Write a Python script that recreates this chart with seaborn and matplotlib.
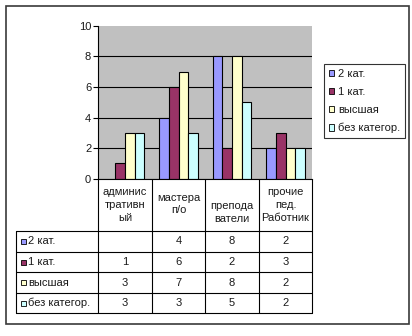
import numpy as np
import pandas as pd
import matplotlib
matplotlib.use("Agg")
import matplotlib.pyplot as plt
from matplotlib.patches import Rectangle, Patch
from matplotlib.lines import Line2D
from matplotlib.transforms import blended_transform_factory
import seaborn as sns

# ---- data ----
categories = ["админис\nтративн\nый", "мастера\nп/о", "препода\nватели", "прочие\nпед.\nРаботник"]
series = ["2 кат.", "1 кат.", "высшая", "без категор."]
cat2 = [np.nan, 4, 8, 2]
cat1 = [1, 6, 2, 3]
highest = [3, 7, 8, 2]
no_cat = [3, 3, 5, 2]
yticks = [0, 2, 4, 6, 8, 10]

series_values = [cat2, cat1, highest, no_cat]
colors = ["#9999FF", "#993366", "#FFFFCC", "#CCFFFF"]

rows = []
for s, vals in zip(series, series_values):
    for c, v in zip(categories, vals):
        if not np.isnan(v):
            rows.append({"category": c, "series": s, "value": v})
df = pd.DataFrame(rows)

sns.set_theme(style="white")
plt.rcParams["font.family"] = ["Liberation Sans", "DejaVu Sans"]
FS = 8
TXT = "#1a1a1a"

W, H = 412, 336
fig = plt.figure(figsize=(W / 100, H / 100), dpi=100)
fig.patch.set_facecolor("white")


def fx(px):
    return px / W


def fy(py):
    return 1 - py / H


ax_l, ax_r, ax_t, ax_b = 98.3, 312.3, 25.7, 178.8
ax = fig.add_axes([fx(ax_l), fy(ax_b), (ax_r - ax_l) / W, (ax_b - ax_t) / H])
ax.set_facecolor("#C0C0C0")

sns.barplot(data=df, x="category", y="value", hue="series", order=categories,
            hue_order=series, palette=colors, width=0.72, edgecolor="black",
            linewidth=0.8, errorbar=None, legend=False, saturation=1, ax=ax)

ax.set_xlim(-0.5, len(categories) - 0.5)
ax.set_ylim(0, 10)
ax.set_yticks(yticks)
ax.set_xticks([])
ax.set_xlabel("")
ax.set_ylabel("")
ax.set_axisbelow(True)
ax.yaxis.grid(True, color="black", linewidth=0.8)
ax.yaxis.get_gridlines()[-1].set_visible(False)
ax.tick_params(axis="y", direction="out", length=3.6, width=0.8, color="black",
               labelsize=FS, labelcolor=TXT, pad=1.5, left=True)
for side in ("top", "right"):
    ax.spines[side].set_visible(False)
for side in ("left", "bottom"):
    ax.spines[side].set_color("black")
    ax.spines[side].set_linewidth(0.8)

# ---- data table under the axes ----
tx = blended_transform_factory(ax.transData, fig.transFigure)
bounds = [i - 0.5 for i in range(len(categories) + 1)]
head_bot = 231.0
row_edges = [231.0, 251.7, 272.4, 293.1, 313.3]
tab_left = 16.0
lw = 0.8

# column separators through header and body
for b in bounds:
    fig.add_artist(Line2D([b, b], [fy(ax_b), fy(row_edges[-1])], transform=tx,
                          color="black", lw=lw))
fig.add_artist(Line2D([fx(tab_left)] * 2, [fy(row_edges[0]), fy(row_edges[-1])],
                      transform=fig.transFigure, color="black", lw=lw))
for ry in row_edges:
    fig.add_artist(Line2D([fx(tab_left), fx(ax_r)], [fy(ry), fy(ry)],
                          transform=fig.transFigure, color="black", lw=lw))

# category header labels
head_centers = [205.0, 204.0, 212.5, 205.0]
for i, (c, hc) in enumerate(zip(categories, head_centers)):
    fig.text(i, fy(hc), c, transform=tx, ha="center", va="center",
             fontsize=FS, color=TXT, linespacing=1.32)

# body rows
for r, (s, vals, col) in enumerate(zip(series, series_values, colors)):
    yc = (row_edges[r] + row_edges[r + 1]) / 2
    fig.add_artist(Rectangle((fx(20.5), fy(yc + 2.6)), 5 / W, 5 / H,
                             transform=fig.transFigure, facecolor=col,
                             edgecolor="black", lw=0.6))
    fig.text(fx(28.5), fy(yc), s, ha="left", va="center", fontsize=FS, color=TXT)
    for i, v in enumerate(vals):
        label = "" if np.isnan(v) else f"{int(v)}"
        fig.text(i, fy(yc), label, transform=tx, ha="center", va="center",
                 fontsize=FS, color=TXT)

# ---- legend ----
handles = [Patch(facecolor=c, edgecolor="black", linewidth=0.6) for c in colors]
leg = fig.legend(handles, series, loc="upper left",
                 bbox_to_anchor=(fx(323.5), fy(64)), bbox_transform=fig.transFigure,
                 frameon=True, fancybox=False, fontsize=FS, handlelength=0.5,
                 handleheight=0.5, handletextpad=0.35, labelspacing=0.72,
                 borderpad=0.45, borderaxespad=0)
leg.get_frame().set_edgecolor("black")
leg.get_frame().set_linewidth(0.8)
for t in leg.get_texts():
    t.set_color(TXT)

# ---- outer frame ----
fig.add_artist(Rectangle((fx(6), fy(323.5)), 403 / W, 318 / H,
                         transform=fig.transFigure, fill=False,
                         edgecolor="#3a3a3a", lw=1.2))

fig.savefig("out.png", dpi=100)
